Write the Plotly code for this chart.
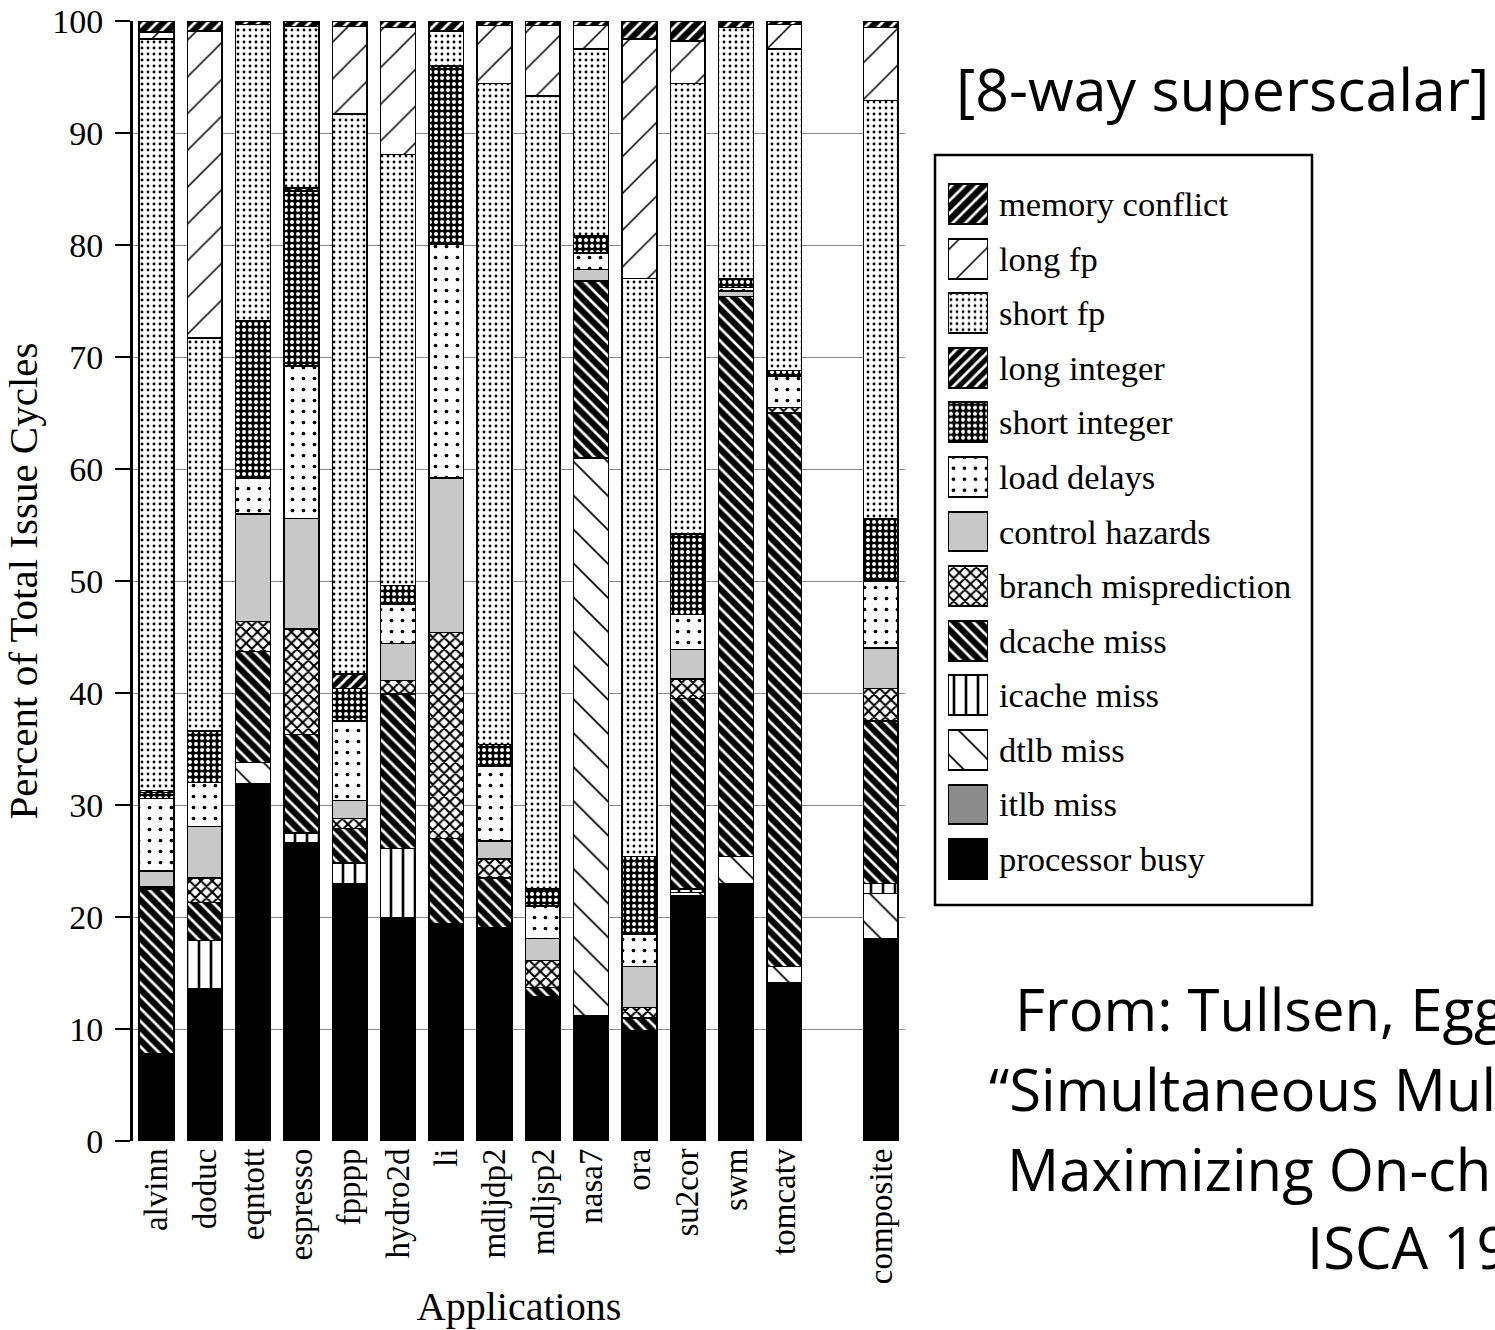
import plotly.graph_objects as go

# ---------------- data ----------------
apps = ["alvinn", "doduc", "eqntott", "espresso", "fpppp", "hydro2d", "li",
        "mdljdp2", "mdljsp2", "nasa7", "ora", "su2cor", "swm", "tomcatv",
        "composite"]

series_names = ["processor busy", "itlb miss", "dtlb miss", "icache miss",
                "dcache miss", "branch misprediction", "control hazards",
                "load delays", "short integer", "long integer", "short fp",
                "long fp", "memory conflict"]

processor_busy  = [7.8, 13.6, 31.9, 26.6, 23.0, 19.9, 19.4, 19.0, 12.9, 11.2, 9.8, 21.9, 23.0, 14.1, 18.1]
itlb_miss       = [0, 0, 0, 0, 0, 0, 0, 0, 0, 0, 0, 0, 0, 0, 0]
dtlb_miss       = [0, 0, 1.9, 0, 0, 0, 0, 0, 0, 49.8, 0, 0.3, 2.4, 1.5, 4.0]
icache_miss     = [0, 4.3, 0, 0.9, 1.8, 6.2, 0, 0, 0, 0, 0, 0.3, 0, 0, 0.9]
dcache_miss     = [14.7, 3.4, 9.9, 8.8, 3.1, 13.8, 7.6, 4.5, 0.8, 15.8, 1.2, 17.0, 50.0, 49.4, 14.5]
branch_mispred  = [0.2, 2.2, 2.7, 9.4, 0.9, 1.2, 18.4, 1.7, 2.4, 0, 0.9, 1.75, 0, 0.5, 2.9]
control_hazards = [1.4, 4.6, 9.6, 9.9, 1.6, 3.3, 13.8, 1.6, 2.0, 1.0, 3.7, 2.65, 0.5, 0, 3.6]
load_delays     = [6.5, 3.9, 3.2, 13.6, 7.1, 3.5, 20.9, 6.7, 2.9, 1.5, 2.9, 3.1, 0.3, 2.8, 6.0]
short_integer   = [0.5, 4.6, 14.0, 15.6, 2.9, 1.7, 15.9, 1.9, 1.5, 1.5, 6.9, 7.2, 0.8, 0.5, 5.6]
long_integer    = [0.2, 0, 0, 0.3, 1.3, 0, 0, 0, 0, 0, 0, 0, 0, 0, 0]
short_fp        = [67.1, 35.1, 26.5, 14.4, 50.0, 38.5, 3.1, 59.0, 70.8, 16.7, 51.6, 40.2, 22.4, 28.7, 37.3]
long_fp         = [0.6, 27.4, 0, 0, 7.8, 11.3, 0, 5.2, 6.3, 2.1, 21.4, 3.8, 0, 2.2, 6.5]
memory_conflict = [1.0, 0.9, 0.3, 0.5, 0.5, 0.6, 0.9, 0.4, 0.4, 0.4, 1.6, 1.8, 0.6, 0.3, 0.6]

series_values = [processor_busy, itlb_miss, dtlb_miss, icache_miss, dcache_miss,
                 branch_mispred, control_hazards, load_delays, short_integer,
                 long_integer, short_fp, long_fp, memory_conflict]

y_ticks = [0, 10, 20, 30, 40, 50, 60, 70, 80, 90, 100]

title_text = "[8-way superscalar]"
source_lines = ["From: Tullsen, Eggers, and Levy,",
                "\u201cSimultaneous Multithreading:",
                "Maximizing On-chip Parallelism\u201d",
                "ISCA 1995"]

# ---------------- styles ----------------
# (shape, fgcolor, bgcolor, size, solidity)
styles = {
    "processor busy":       ("", "black", "black", 8, 0.3),
    "itlb miss":            ("", "#8c8c8c", "#8c8c8c", 8, 0.3),
    "dtlb miss":            ("\\", "black", "white", 24, 0.07),
    "icache miss":          ("|", "black", "white", 12, 0.22),
    "dcache miss":          ("\\", "white", "black", 9, 0.3),
    "branch misprediction": ("x", "black", "white", 8, 0.45),
    "control hazards":      ("", "#c8c8c8", "#c8c8c8", 8, 0.3),
    "load delays":          (".", "black", "white", 11, 0.09),
    "short integer":        (".", "white", "black", 6, 0.35),
    "long integer":         ("/", "white", "black", 8, 0.35),
    "short fp":             (".", "black", "white", 6, 0.17),
    "long fp":              ("/", "black", "white", 26, 0.06),
    "memory conflict":      ("/", "white", "black", 9, 0.3),
}

SERIF = "Liberation Serif, Times New Roman, serif"
SANS = "Open Sans, Noto Sans, sans-serif"

# x slots: one empty slot before the composite bar
x_slots = [i for i in range(len(apps) - 1)] + [len(apps)]


def marker_for(name, lw):
    shp, fg, bg, sz, sol = styles[name]
    return dict(color=bg, line=dict(color="black", width=lw),
                pattern=dict(shape=shp, fgcolor=fg, bgcolor=bg,
                             size=sz, solidity=sol, fillmode="replace"))


fig = go.Figure()
for name, vals in zip(series_names, series_values):
    fig.add_trace(go.Bar(
        x=x_slots, y=vals, name=name, width=0.72,
        marker=marker_for(name, 1.5),
        showlegend=False, xaxis="x", yaxis="y",
    ))

# custom legend with large swatches on an auxiliary axis
for name in series_names:
    fig.add_trace(go.Bar(
        y=[name], x=[1], orientation="h", width=0.73, name=name,
        marker=marker_for(name, 2),
        showlegend=False, xaxis="x2", yaxis="y2", hoverinfo="y",
    ))

W, H = 1495, 1330
L, R, T, B = 133, 0, 21, 189
pw, ph = W - L - R, H - T - B


def px_x(p):
    return (p - L) / pw


def px_y(p):
    return (H - B - p) / ph


annotations = [dict(text=title_text, xref="paper", yref="paper",
                    x=px_x(1222), y=px_y(88), xanchor="center", yanchor="middle",
                    showarrow=False, font=dict(family=SANS, size=59, color="black"))]
line_x = [1013, 987, 1005, 1305]
line_y = [1008, 1088, 1168, 1247]
for txt, lx, ly in zip(source_lines, line_x, line_y):
    annotations.append(dict(text=txt, xref="paper", yref="paper",
                            x=px_x(lx), y=px_y(ly), xanchor="left", yanchor="middle",
                            showarrow=False,
                            font=dict(family=SANS, size=58, color="black")))

fig.update_layout(
    width=W, height=H,
    margin=dict(l=L, r=R, t=T, b=B),
    paper_bgcolor="white", plot_bgcolor="white",
    barmode="stack",
    font=dict(family=SERIF, color="black", size=33),
    xaxis=dict(
        domain=[0, px_x(905)], range=[-0.487, 15.5],
        tickmode="array", tickvals=x_slots, ticktext=apps, tickangle=-90,
        tickfont=dict(family=SERIF, size=33), ticks="", showgrid=False,
        showline=False, zeroline=False,
        title=dict(text="Applications", font=dict(family=SERIF, size=40), standoff=8),
        anchor="y",
    ),
    yaxis=dict(
        domain=[0, 1], range=[0, 100],
        tickmode="array", tickvals=y_ticks,
        tickfont=dict(family=SERIF, size=34),
        ticks="outside", ticklen=15, tickwidth=1.5, tickcolor="black",
        showgrid=True, gridcolor="#8a8a8a", gridwidth=1,
        showline=True, linecolor="black", linewidth=3, zeroline=False,
        ticklabelstandoff=5,
        title=dict(text="Percent of Total Issue Cycles",
                   font=dict(family=SERIF, size=41), standoff=2),
        anchor="x",
    ),
    xaxis2=dict(domain=[px_x(948), px_x(988)], range=[0, 1], visible=False,
                anchor="y2", fixedrange=True),
    yaxis2=dict(domain=[px_y(886.3), px_y(176.7)], range=[-0.5, 12.5],
                categoryorder="array", categoryarray=series_names,
                side="right", anchor="x2", showgrid=False, showline=False,
                zeroline=False, ticks="", ticklabelstandoff=10,
                tickfont=dict(family=SERIF, size=34.5)),
    shapes=[dict(type="rect", xref="paper", yref="paper",
                 x0=px_x(935), x1=px_x(1312), y0=px_y(905), y1=px_y(155),
                 line=dict(color="black", width=2.5), fillcolor="rgba(0,0,0,0)",
                 layer="below")],
    annotations=annotations,
)

fig.write_html("out.html")
